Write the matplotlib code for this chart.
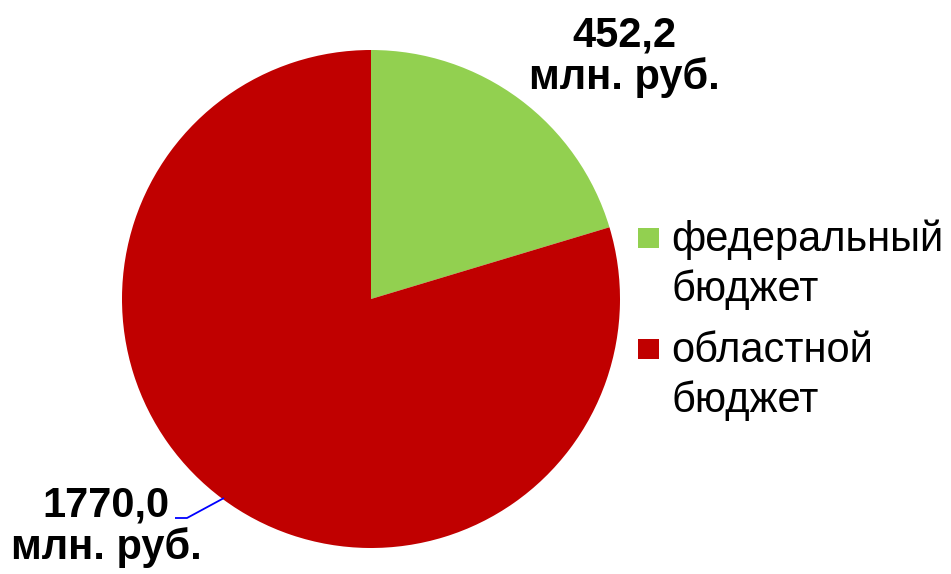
import matplotlib
matplotlib.use("Agg")
import matplotlib.pyplot as plt
from matplotlib.patches import Rectangle

plt.rcParams["font.family"] = ["Liberation Sans", "DejaVu Sans"]

# ── Data ─────────────────────────────────────────────────────────────────────
categories = ["федеральный\nбюджет", "областной\nбюджет"]
values = [452.2, 1770.0]
value_labels = ["452,2\nмлн. руб.", "1770,0\nмлн. руб."]
colors = ["#92D050", "#C00000"]

# ── Figure: 951x574 px, pie radius 249 px centred at (371, 299) ──────────────
W, H = 951, 574
CX, CY, R = 371, 299, 249
fig = plt.figure(figsize=(W / 100, H / 100), dpi=100)
ax = fig.add_axes([0, 0, 1, 1])

ax.pie(values, colors=colors, startangle=90, counterclock=False, radius=1.0,
       center=(0, 0), wedgeprops=dict(linewidth=0))
ax.set_xlim(-CX / R, (W - CX) / R)
ax.set_ylim(-(H - CY) / R, CY / R)
ax.set_aspect("equal")
ax.axis("off")

def px(x, y):
    return ((x - CX) / R, (CY - y) / R)

# value labels
ax.text(*px(624, 57), value_labels[0], ha="center", va="center",
        fontsize=30, fontweight="bold", linespacing=1.05)
ax.text(*px(106, 527), value_labels[1], ha="center", va="center",
        fontsize=30, fontweight="bold", linespacing=1.05)

# leader line for the lower label
lx, ly = zip(px(175, 518), px(187, 518), px(224, 498))
ax.plot(lx, ly, color="#0000FF", lw=1.3, solid_capstyle="butt")

# legend (marker aligned with first text line, as in the original)
for i, (lab, col) in enumerate(zip(categories, colors)):
    sq_top = 228 + i * 111
    ax.add_patch(Rectangle((638 / W, 1 - (sq_top + 20) / H), 21 / W, 20 / H,
                           transform=fig.transFigure, facecolor=col,
                           edgecolor="none", clip_on=False))
    fig.text(671 / W, 1 - (219 + i * 112) / H, lab, ha="left", va="top",
             fontsize=30, linespacing=1.3)

fig.savefig("out.png", dpi=100)
